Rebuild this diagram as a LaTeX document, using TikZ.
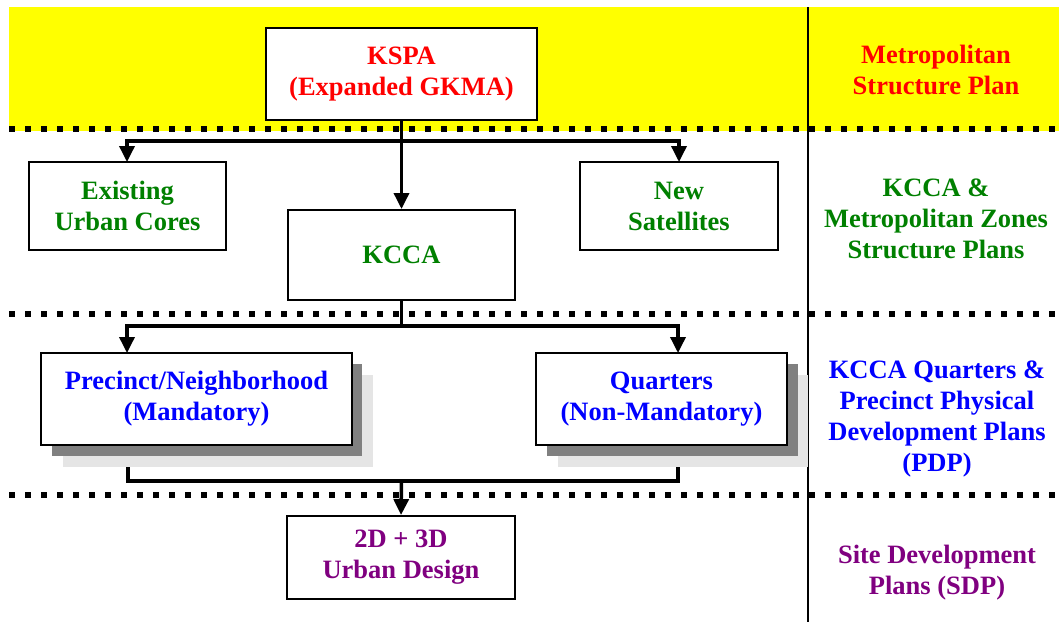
\documentclass[tikz,border=0pt]{standalone}
\usepackage{fontspec}
\setmainfont{Liberation Serif}[BoldFont={Liberation Serif Bold}]
\usetikzlibrary{arrows.meta}
\definecolor{kred}{RGB}{255,0,0}
\definecolor{kgreen}{RGB}{0,128,0}
\definecolor{kblue}{RGB}{0,0,255}
\definecolor{kpurple}{RGB}{128,0,128}
\definecolor{kyellow}{RGB}{255,255,0}
\definecolor{shdark}{RGB}{128,128,128}
\definecolor{shlight}{RGB}{229,229,229}
\begin{document}
\begin{tikzpicture}[x=1pt,y=-1pt,
  txt/.style={align=center, inner sep=0pt, font=\bfseries\fontsize{26.5}{31}\selectfont},
  box/.style={txt, draw=black, line width=2pt, fill=white, rectangle},
  conn/.style={line width=3.5pt, line join=miter},
  arr/.style={conn, -{Triangle[length=16pt,width=15pt]}},
  sep/.style={line width=6pt, dash pattern=on 6pt off 10pt},
  shd/.style={fill=shdark},
  shl/.style={fill=shlight}]
\useasboundingbox (0,0) rectangle (1059,622);
% yellow band
\fill[kyellow] (9,7) rectangle (1059,131);
% right divider
\draw[line width=2pt] (808,7) -- (808,622);
% separators
\draw[sep] (9,128.5) -- (1059,128.5);
\draw[sep] (9,314) -- (1059,314);
\draw[sep] (9,495) -- (1059,495);
% shadows
\fill[shl] (63,375) rectangle (373,467);
\fill[shd] (52,364) rectangle (362,456);
\fill[shl] (558,375) rectangle (808,467);
\fill[shd] (547,364) rectangle (798,456);
% boxes
\node[box, text=kred, minimum width=271pt, minimum height=92pt] (kspa) at (401.5,74) {KSPA\\(Expanded GKMA)};
\node[box, text=kgreen, minimum width=197pt, minimum height=88pt] (exist) at (127.5,206) {Existing\\Urban Cores};
\node[box, text=kgreen, minimum width=198pt, minimum height=88pt] (newsat) at (679,206) {New\\Satellites};
\node[box, text=kgreen, minimum width=227pt, minimum height=90pt] (kcca) at (401.5,255) {\raisebox{-2pt}{KCCA}};
\node[box, text=kblue, minimum width=311pt, minimum height=92pt] (prec) at (196.5,399) {Precinct/Neighborhood\\(Mandatory)};
\node[box, text=kblue, minimum width=251pt, minimum height=92pt] (quart) at (661.5,399) {Quarters\\(Non-Mandatory)};
\node[box, text=kpurple, minimum width=228pt, minimum height=83pt] (ud) at (401,557.5) {2D + 3D\\Urban Design};
% right labels
\node[txt, text=kred] (l1) at (936,69.5) {Metropolitan\\Structure Plan};
\node[txt, text=kgreen] (l2) at (936,219) {KCCA \&\\Metropolitan Zones\\Structure Plans};
\node[txt, text=kblue] (l3) at (937,418.5) {KCCA Quarters \&\\Precinct Physical\\Development Plans\\(PDP)};
\node[txt, text=kpurple] (l4) at (937,572.5) {Site Development\\Plans (SDP)};
% connectors
\coordinate (j1) at (401.5,141);
\coordinate (ea) at (127,162);
\coordinate (na) at (679,162);
\draw[arr] (kspa.south) -- (kcca.north);
\draw[arr] (j1) -| (ea);
\draw[arr] (j1) -| (na);
\coordinate (j2) at (401.5,326);
\coordinate (pa) at (127,353);
\coordinate (qa) at (678,353);
\draw[conn] (kcca.south) -- (j2);
\draw[arr] (j2) -| (pa);
\draw[arr] (j2) -| (qa);
\coordinate (pb) at (128,467);
\coordinate (qb) at (678,467);
\coordinate (j3) at (401.5,481);
\draw[conn] (pb) |- (j3);
\draw[conn] (qb) |- (j3);
\draw[arr] (j3) -- (ud.north);
\end{tikzpicture}
\end{document}
